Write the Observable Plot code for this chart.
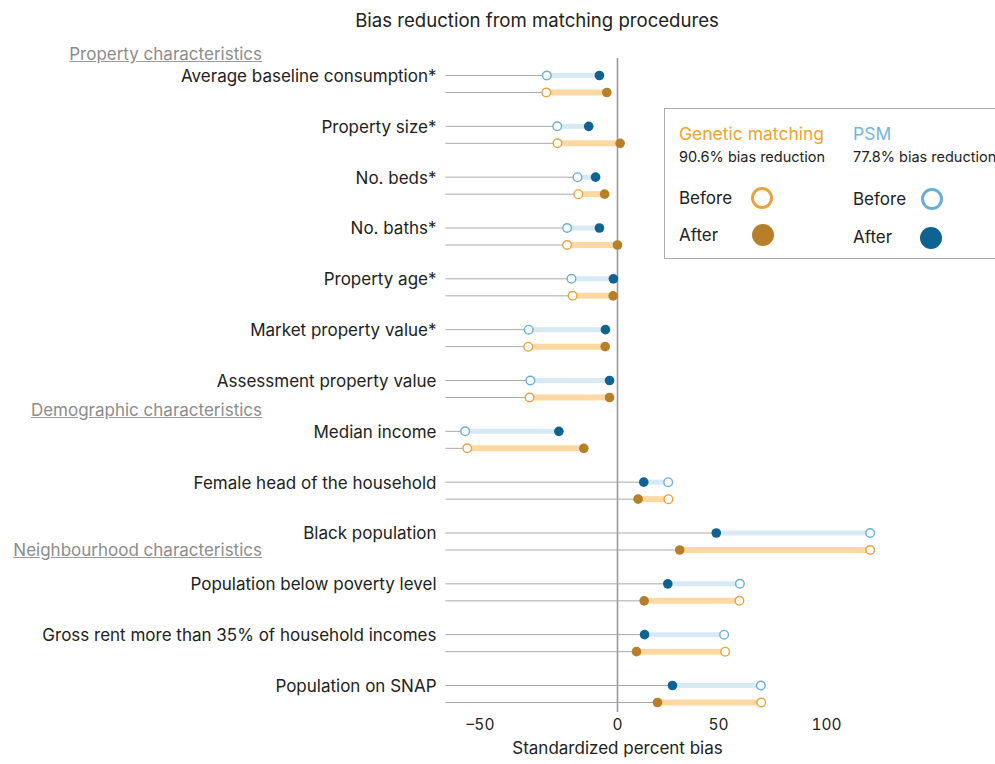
<!DOCTYPE html>
<html><head><meta charset="utf-8">
<script src="https://cdn.jsdelivr.net/npm/d3@7"></script>
<script src="https://cdn.jsdelivr.net/npm/@observablehq/plot@0.6"></script>
<style>
body{margin:0;background:#fff;font-family:Inter,"Noto Sans",sans-serif;color:#222;}
#wrap{position:relative;width:995px;height:764px;overflow:hidden;}
#title{position:absolute;top:8px;left:287px;width:500px;text-align:center;font-size:18.6px;line-height:24px;white-space:nowrap;}
#chart{position:absolute;top:40px;left:0;}
.sec{position:absolute;right:733px;font-size:17px;line-height:20px;color:#8c8c8c;text-decoration:underline;text-decoration-color:#9a9a9a;white-space:nowrap;}
#legend{position:absolute;left:664px;top:108px;width:340px;height:149px;border:1px solid #ababab;background:#fff;}
#legend div{position:absolute;white-space:nowrap;}
.lh{font-size:17.5px;line-height:20px;}
.ls{font-size:14.5px;line-height:18px;color:#222;}
.lb{font-size:17px;line-height:20px;color:#222;}
#legend svg{position:absolute;left:0;top:0;}
</style></head>
<body>
<div id="wrap">
  <div id="title">Bias reduction from matching procedures</div>
  <div id="chart"></div>
  <div class="sec" id="sec0"></div>
  <div class="sec" id="sec1"></div>
  <div class="sec" id="sec2"></div>
  <div id="legend">
    <div class="lh" style="left:14px;top:15px;color:#f0a233">Genetic matching</div>
    <div class="ls" style="left:14px;top:39px">90.6% bias reduction</div>
    <div class="lh" style="left:188px;top:15px;color:#78b3e0">PSM</div>
    <div class="ls" style="left:188px;top:39px">77.8% bias reduction</div>
    <div class="lb" style="left:14px;top:79px">Before</div>
    <div class="lb" style="left:14px;top:116px">After</div>
    <div class="lb" style="left:188px;top:80px">Before</div>
    <div class="lb" style="left:188px;top:118px">After</div>
    <svg width="340" height="149">
      <circle cx="97" cy="89" r="9.5" fill="#fff" stroke="#e8a33d" stroke-width="3"/>
      <circle cx="98" cy="126" r="11" fill="#b87f2a"/>
      <circle cx="267" cy="90" r="9.5" fill="#fff" stroke="#6aaed6" stroke-width="3"/>
      <circle cx="266" cy="129" r="11" fill="#0f6390"/>
    </svg>
  </div>
</div>
<script>
const variables = [
  "Average baseline consumption*","Property size*","No. beds*","No. baths*","Property age*",
  "Market property value*","Assessment property value","Median income","Female head of the household",
  "Black population","Population below poverty level","Gross rent more than 35% of household incomes","Population on SNAP"
];
const psmBefore = [-25.8,-22.0,-14.6,-18.4,-16.8,-32.4,-31.8,-55.7,25.1,120.2,59.9,52.6,69.6];
const psmAfter  = [-6.6,-10.5,-8.0,-6.6,-1.5,-4.4,-2.9,-21.4,13.0,48.9,24.9,13.4,27.2];
const gmBefore  = [-26.0,-21.9,-14.3,-18.4,-16.4,-32.6,-32.1,-54.9,25.2,120.2,59.7,53.1,69.8];
const gmAfter   = [-3.9,1.3,-4.7,0.0,-1.6,-4.5,-2.9,-12.3,10.2,30.8,13.2,9.4,19.8];
const sections = ["Property characteristics","Demographic characteristics","Neighbourhood characteristics"];
const xTicks = [-50,0,50,100];
const xStart = -63;   // left end of the leader lines (scale domain start)
const xLabel = "Standardized percent bias";

sections.forEach((s,i)=>{document.getElementById("sec"+i).textContent = s;});
document.getElementById("sec0").style.top = "44px";
document.getElementById("sec1").style.top = "400px";
document.getElementById("sec2").style.top = "540px";

const psm = variables.map((v,i)=>({variable:v, before:psmBefore[i], after:psmAfter[i]}));
const gm  = variables.map((v,i)=>({variable:v, before:gmBefore[i], after:gmAfter[i]}));

function methodMarks(data, c, dy) {
  return [
    Plot.link(data, {x1:()=>xStart, x2:d=>Math.min(d.before,d.after), y1:"variable", y2:"variable", stroke:"#a9a9a9", strokeWidth:1, dy}),
    Plot.link(data, {x1:"before", x2:"after", y1:"variable", y2:"variable", stroke:c.band, strokeWidth:c.bw, dy}),
    Plot.dot(data, {x:"after", y:"variable", r:4.8, fill:c.after, dy}),
    Plot.dot(data, {x:"before", y:"variable", r:4.3, fill:"#fff", stroke:c.before, strokeWidth:1.4, dy})
  ];
}

const chart = Plot.plot({
  width: 995,
  height: 724,
  marginLeft: 445,
  marginRight: 0,
  marginTop: 18,
  marginBottom: 52,
  style: {fontFamily: "Inter, 'Noto Sans', sans-serif", fontSize: "17px", color: "#222", background: "transparent"},
  x: {type: "linear", domain: [xStart, ...xTicks], range: [445, 480, 617, 718, 826]},
  y: {type: "point", domain: variables, range: [43.5, 653.5], padding: 0, round: false},
  marks: [
    Plot.ruleX([0], {stroke: "#9a9a9a", strokeWidth: 1.6}),
    ...methodMarks(psm, {band:"#d7e9f4", bw:5, after:"#0f6390", before:"#6aaed6"}, -8.5),
    ...methodMarks(gm,  {band:"#fdd8a3", bw:6, after:"#b87f2a", before:"#e8a33d"}, 8.5),
    Plot.axisY({tickSize: 0, tickPadding: 9, dy: -7.5, fontSize: 17, label: null}),
    Plot.axisX({ticks: xTicks, tickSize: 0, tickPadding: 6, fontSize: 15.5, label: null,
      tickFormat: d => d < 0 ? "\u2013" + Math.abs(d) : String(d)}),
    Plot.text([xLabel], {x: () => 0, frameAnchor: "bottom", dy: 41, fontSize: 17, text: d => d})
  ]
});
document.getElementById("chart").append(chart);
</script>
</body></html>
